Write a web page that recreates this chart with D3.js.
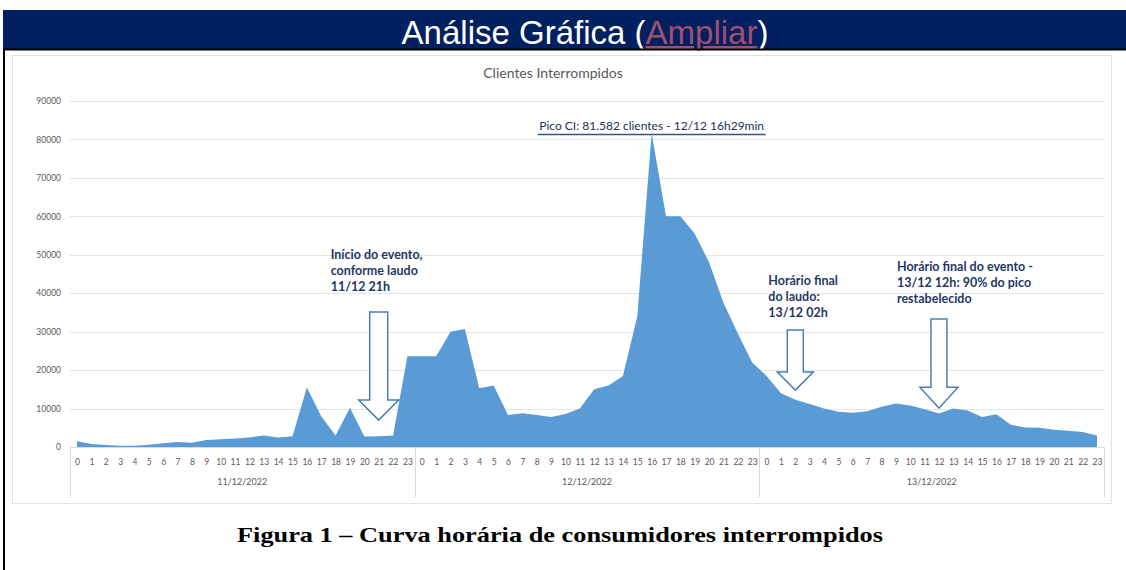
<!DOCTYPE html>
<html><head><meta charset="utf-8">
<script src="https://cdn.jsdelivr.net/npm/d3@7"></script>
<style>body{margin:0;background:#fff}svg{display:block}</style>
</head><body><svg id="c" width="1126" height="570"></svg>
<script>
const dayLabels = ["11/12/2022", "12/12/2022", "13/12/2022"];
const hourLabels = ["0","1","2","3","4","5","6","7","8","9","10","11","12","13","14","15","16","17","18","19","20","21","22","23"];
const day1 = [1500, 800, 500, 300, 300, 600, 1000, 1300, 1100, 1800, 2000, 2200, 2500, 3000, 2500, 2800, 15500, 8000, 3000, 10200, 2700, 2800, 3000, 23600];
const day2 = [23600, 23600, 30000, 30700, 15300, 16000, 8300, 8800, 8300, 7800, 8600, 10000, 15000, 16000, 18500, 34000, 81582, 60000, 60000, 55500, 48000, 37500, 29500, 22000];
const day3 = [18500, 14000, 12300, 11200, 10000, 9200, 8900, 9300, 10500, 11300, 10800, 9800, 8700, 10000, 9500, 7800, 8500, 5800, 5100, 5000, 4500, 4200, 3900, 3000];
const yTicks = [0, 10000, 20000, 30000, 40000, 50000, 60000, 70000, 80000, 90000];
const annotations = [
  {idx: 21, tipValue: 7000, lines: ["Início do evento,", "conforme laudo", "11/12 21h"]},
  {idx: 50, tipValue: 14800, lines: ["Horário final", "do laudo:", "13/12 02h"]},
  {idx: 60, tipValue: 10100, lines: ["Horário final do evento -", "13/12 12h: 90% do pico", "restabelecido"]}
];
const peakLabel = "Pico CI: 81.582 clientes - 12/12 16h29min";

const values = day1.concat(day2, day3);
const data = values.map((v, i) => ({i, v, hour: hourLabels[i % 24], day: Math.floor(i / 24)}));

const svg = d3.select("#c");
const W = 1126, H = 570;

// header bar
svg.append("rect").attr("x", 3).attr("y", 10).attr("width", W - 3).attr("height", 39).attr("fill", "#002060");
const title = svg.append("text").attr("x", 585).attr("y", 44).attr("text-anchor", "middle")
  .attr("font-family", "Liberation Sans, Arial, sans-serif").attr("font-size", 33).attr("fill", "#fff");
title.append("tspan").text("Análise Gráfica (");
title.append("tspan").text("Ampliar").attr("fill", "#a0506e").attr("text-decoration", "underline");
title.append("tspan").text(")");

// frame lines
svg.append("line").attr("x1", 3).attr("x2", W).attr("y1", 49.5).attr("y2", 49.5).attr("stroke", "#000").attr("stroke-width", 2);
svg.append("line").attr("x1", 4).attr("x2", 4).attr("y1", 49).attr("y2", H).attr("stroke", "#000").attr("stroke-width", 2);

// chart box
svg.append("rect").attr("x", 12.5).attr("y", 55.5).attr("width", 1099).attr("height", 448)
  .attr("fill", "#fff").attr("stroke", "#e2e2e2");

const x = d3.scalePoint().domain(data.map(d => d.i)).range([77, 1097]);
const y = d3.scaleLinear().domain([0, 90000]).range([447, 101]);
const step = x.step();

const font = "Lato, 'Open Sans', sans-serif";

// chart title
svg.append("text").attr("x", 553).attr("y", 78).attr("text-anchor", "middle")
  .attr("font-family", font).attr("font-size", 14).attr("fill", "#595959").text("Clientes Interrompidos");

// gridlines
const grid = svg.append("g");
grid.selectAll("line").data(yTicks.filter(t => t > 0)).join("line")
  .attr("x1", 70).attr("x2", 1104).attr("y1", d => Math.round(y(d)) + 0.5).attr("y2", d => Math.round(y(d)) + 0.5)
  .attr("stroke", "#e4e4e4");

// y axis
const yAxis = svg.append("g").attr("transform", "translate(64,0)")
  .call(d3.axisLeft(y).tickValues(yTicks).tickSize(0).tickFormat(d3.format("d")));
yAxis.select(".domain").remove();
yAxis.selectAll("text").attr("font-family", font).attr("font-size", 8.5).attr("fill", "#595959");

// area
svg.append("path").datum(data)
  .attr("d", d3.area().x(d => x(d.i)).y0(y(0)).y1(d => y(d.v)))
  .attr("fill", "#5b9bd5");

// x axis baseline
svg.append("line").attr("x1", 70).attr("x2", 1104).attr("y1", 447.5).attr("y2", 447.5).attr("stroke", "#d9d9d9");

// hour tick labels
const xAxis = svg.append("g").attr("transform", "translate(0,447)")
  .call(d3.axisBottom(x).tickSize(0).tickPadding(12).tickFormat(i => hourLabels[i % 24]));
xAxis.select(".domain").remove();
xAxis.selectAll("text").attr("font-family", font).attr("font-size", 8.5).attr("fill", "#595959");

// day group separators and labels
const bounds = [0, 24, 48, 72].map(k => k === 72 ? x(71) + step / 2 : x(k) - step / 2);
svg.append("g").selectAll("line").data(bounds).join("line")
  .attr("x1", d => Math.round(d) + 0.5).attr("x2", d => Math.round(d) + 0.5)
  .attr("y1", 447).attr("y2", 497).attr("stroke", "#d9d9d9");
svg.append("g").selectAll("text").data(dayLabels).join("text")
  .attr("x", (d, k) => (x(k * 24) + x(k * 24 + 23)) / 2).attr("y", 485)
  .attr("text-anchor", "middle").attr("font-family", font).attr("font-size", 9).attr("fill", "#595959").text(d => d);

// peak annotation
const peak = data.reduce((a, b) => (b.v > a.v ? b : a));
svg.append("text").attr("x", x(peak.i)).attr("y", 130).attr("text-anchor", "middle")
  .attr("font-family", font).attr("font-size", 12).attr("fill", "#1f2d5a").text(peakLabel);
svg.append("line").attr("x1", x(peak.i) - 114).attr("x2", x(peak.i) + 114).attr("y1", 134.5).attr("y2", 134.5)
  .attr("stroke", "#2f5597").attr("stroke-width", 1.5);

// arrows and notes
const arrowDims = [
  {shaftTop: 312, shaftW: 18, headW: 40, headH: 20},
  {shaftTop: 330, shaftW: 16, headW: 36, headH: 18},
  {shaftTop: 319, shaftW: 16, headW: 38, headH: 21}
];
const textPos = [
  {dx: -48, y: 259},
  {dx: -27, y: 285},
  {dx: -42, y: 271}
];
annotations.forEach((a, k) => {
  const cx = x(a.idx), tip = y(a.tipValue), dm = arrowDims[k];
  const hs = dm.shaftW / 2, hh = dm.headW / 2, hy = tip - dm.headH;
  const pts = [[cx - hs, dm.shaftTop], [cx + hs, dm.shaftTop], [cx + hs, hy], [cx + hh, hy], [cx, tip],
               [cx - hh, hy], [cx - hs, hy]];
  svg.append("path").attr("d", d3.line()(pts) + "Z").attr("fill", "#fff")
    .attr("stroke", "#4a7fb5").attr("stroke-width", 1.5).attr("stroke-linejoin", "miter");
  const t = svg.append("text").attr("font-family", font).attr("font-size", 12.5).attr("font-weight", "bold")
    .attr("fill", "#1f3864");
  a.lines.forEach((ln, j) => {
    t.append("tspan").attr("x", cx + textPos[k].dx).attr("y", textPos[k].y + j * 16).text(ln);
  });
});

// caption
svg.append("text").attr("x", 560).attr("y", 542).attr("text-anchor", "middle")
  .attr("font-family", "'Liberation Serif', serif").attr("font-weight", "bold").attr("font-size", 21)
  .attr("textLength", 646).attr("lengthAdjust", "spacingAndGlyphs").attr("fill", "#000")
  .text("Figura 1 – Curva horária de consumidores interrompidos");
</script></body></html>
